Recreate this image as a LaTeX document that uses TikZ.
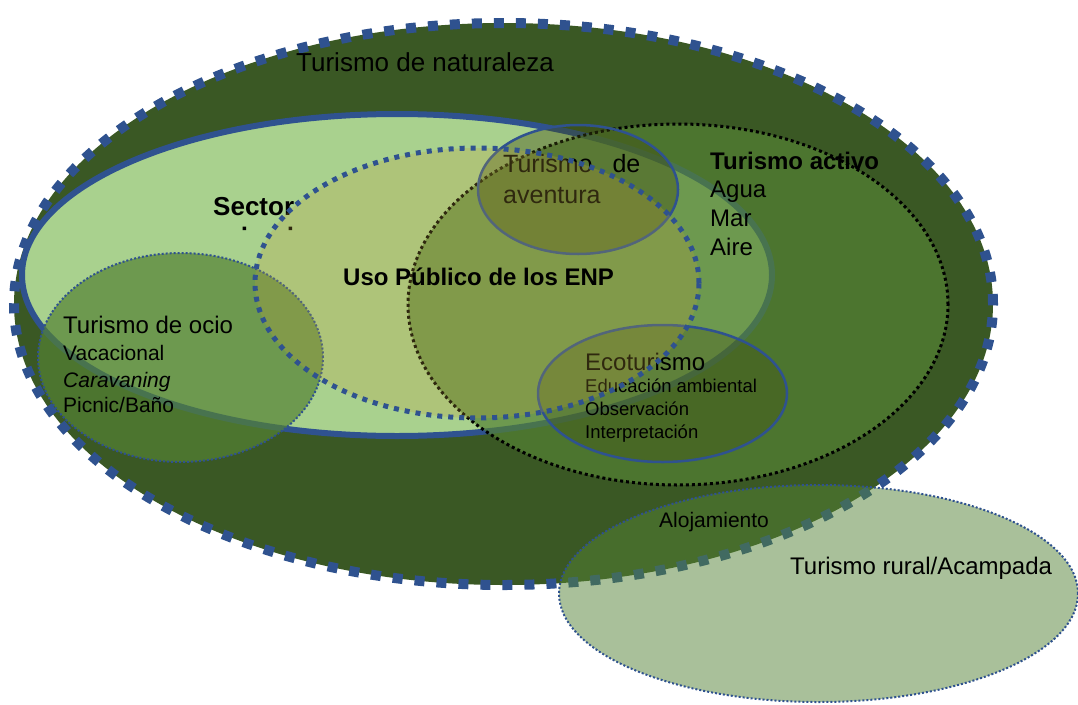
\documentclass[tikz,border=0pt]{standalone}
\usepackage{fontspec}
\setmainfont{Liberation Sans}
\definecolor{borde}{HTML}{2F528F}
\definecolor{verdeosc}{HTML}{3A5824}
\definecolor{verdeclaro}{HTML}{A9D18E}
\definecolor{verde}{HTML}{548235}
\definecolor{ocre}{RGB}{190,160,60}
\definecolor{oliva}{HTML}{3F4A10}
\tikzset{
	rotulo/.style={anchor=base west, inner sep=0pt, font=\fontsize{24}{28}\selectfont},
	negrita/.style={rotulo, font=\fontsize{24}{28}\selectfont\bfseries},
	item/.style={rotulo, font=\fontsize{21}{25}\selectfont},
	menor/.style={rotulo, font=\fontsize{18.5}{22}\selectfont},
	fino/.style={draw=borde, line width=2pt, dash pattern=on 2pt off 2pt},
	burbuja/.style={fill=oliva, fill opacity=0.4, draw=borde, line width=2.5pt}
}
\begin{document}
\begin{tikzpicture}[x=1pt, y=-1pt]
	\useasboundingbox (0,0) rectangle (1078,704);
	% turismo de naturaleza
	\filldraw [fill=verdeosc, draw=borde, line width=10pt, dash pattern=on 10pt off 12pt]
		(503.5,304) ellipse [x radius=489.5pt, y radius=281pt];
	% sector
	\filldraw [fill=verdeclaro, draw=borde, line width=6pt]
		(397,275) ellipse [x radius=375pt, y radius=161pt];
	% ocio y activo
	\filldraw [fino, fill=verde, fill opacity=0.7]
		(180.5,357.5) ellipse [x radius=142.5pt, y radius=104.5pt];
	\filldraw [fill=verde, fill opacity=0.7, draw=black, line width=3pt, dash pattern=on 3pt off 3pt]
		(678,304.5) ellipse [x radius=270pt, y radius=180.5pt];
	% aventura y ecoturismo
	\filldraw [burbuja] (578,189.5) ellipse [x radius=100pt, y radius=64.5pt];
	\filldraw [burbuja, fill opacity=0.3] (662.5,393.5) ellipse [x radius=124.5pt, y radius=68.5pt];

	\node [rotulo, font=\fontsize{26}{30}\selectfont] (naturaleza) at (296,71) {Turismo de naturaleza};
	\node [negrita, font=\fontsize{26}{30}\selectfont\bfseries] (sector) at (213,215) {Sector};
	\fill (242.5,226.5) rectangle +(3.5,3.5)
		(288.5,226.5) rectangle +(3.5,3.5);

	\node [rotulo] (ocio) at (63,333) {Turismo de ocio};
	\node [item] (ocio1) at (63,360) {Vacacional};
	\node [item] (ocio2) at (63,387) {\itshape Caravaning};
	\node [item] (ocio3) at (63,412) {Picnic/Baño};

	\node [negrita] (activo) at (710,169) {Turismo activo};
	\foreach \txt [count=\i] in {Agua,Mar,Aire}
		\node [rotulo] (activo\i) at (710,169+28.7*\i) {\txt};

	\node [rotulo, font=\fontsize{25}{29}\selectfont] (aventura) at (503,172) {Turismo\hspace{0.8em}de};
	\node [rotulo, font=\fontsize{25}{29}\selectfont] (aventura2) at (503,203) {aventura};

	\node [rotulo] (eco) at (585,370) {Ecoturismo};
	\foreach \txt [count=\i] in {Educación ambiental,Observación,Interpretación}
		\node [menor] (eco\i) at (585,370+22.7*\i) {\txt};

	% uso publico
	\filldraw [fill=ocre, fill opacity=0.25, draw=borde, line width=5pt, dash pattern=on 5pt off 6pt]
		(477,283) ellipse [x radius=222pt, y radius=135pt];
	\node [negrita] (uso) at (343,285) {Uso Público de los ENP};

	% turismo rural
	\filldraw [fino, fill=verde, fill opacity=0.5]
		(818.5,593.5) ellipse [x radius=259.5pt, y radius=108.5pt];
	\node [item] (alojamiento) at (659,527) {Alojamiento};
	\node [rotulo] (rural) at (790,574) {Turismo rural/Acampada};
\end{tikzpicture}
\end{document}
